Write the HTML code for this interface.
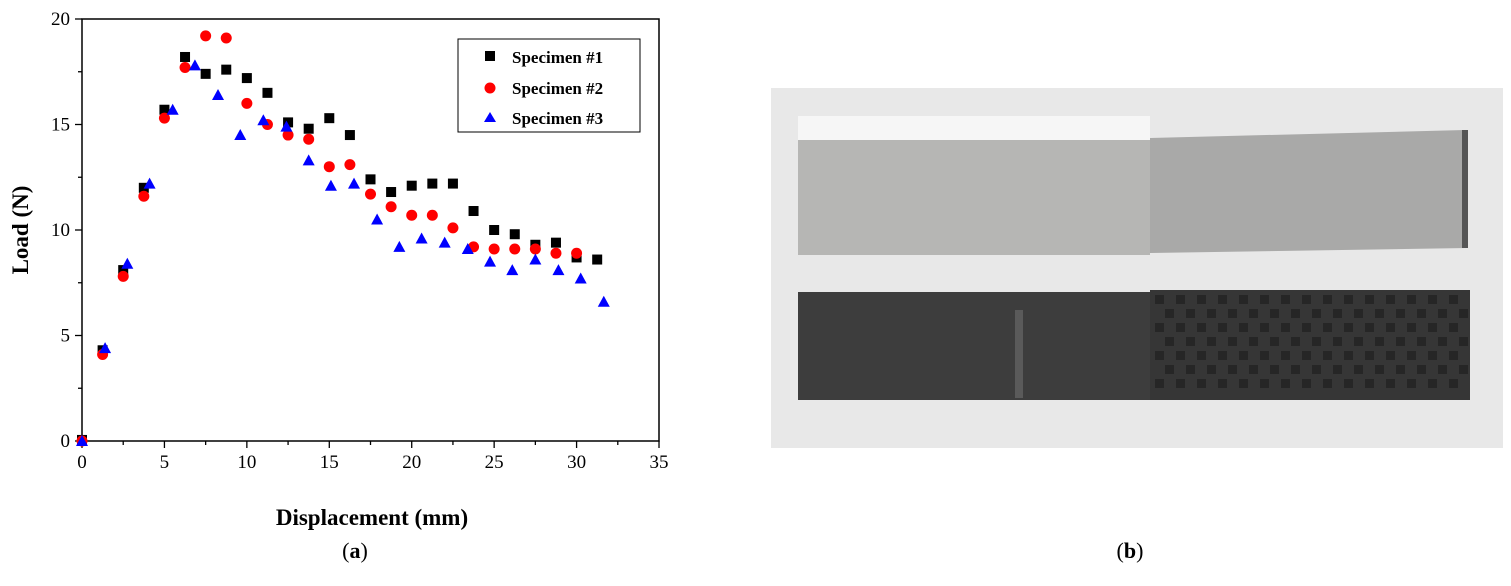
<!DOCTYPE html>
<html><head><style>
body{margin:0;background:#fff;width:1511px;height:581px;overflow:hidden;font-family:"Liberation Serif",serif}
</style></head><body>
<svg id="s" width="1511" height="581" xmlns="http://www.w3.org/2000/svg" font-family="Liberation Serif, serif">
<rect x="82" y="19" width="577" height="422" fill="none" stroke="#000" stroke-width="1.5"/>
<g id="ticks" stroke="#000" stroke-width="1.3"></g>
<g id="lbl" font-size="19" fill="#000"></g>
<text x="28" y="230" transform="rotate(-90 28 230)" font-size="23" font-weight="bold" text-anchor="middle">Load (N)</text>
<text x="372" y="525" font-size="23" font-weight="bold" text-anchor="middle">Displacement (mm)</text>
<text x="355" y="558" font-size="22" text-anchor="middle">(<tspan font-weight="bold">a</tspan>)</text>
<text x="1130" y="558" font-size="22" text-anchor="middle">(<tspan font-weight="bold">b</tspan>)</text>
<rect x="458" y="39" width="182" height="93" fill="#fff" stroke="#000" stroke-width="1"/>
<rect x="485" y="51" width="10" height="10" fill="#000"/>
<text x="512" y="63" font-size="17" font-weight="bold">Specimen #1</text>
<circle cx="490" cy="88" r="5.5" fill="#f00"/>
<text x="512" y="94" font-size="17" font-weight="bold">Specimen #2</text>
<polygon points="490,112 484,122 496,122" fill="#00f"/>
<text x="512" y="124" font-size="17" font-weight="bold">Specimen #3</text>
<g id="pts"></g>
<!-- photo -->
<rect x="771" y="88" width="732" height="360" fill="#e8e8e8"/>
<rect x="798" y="116" width="352" height="25" fill="#f6f6f6"/>
<rect x="798" y="140" width="352" height="115" fill="#b6b6b4"/>
<polygon points="1150,138 1465,130 1467,248 1150,253" fill="#a9a9a8"/>
<rect x="1462" y="130" width="6" height="118" fill="#555"/>
<rect x="798" y="292" width="352" height="108" fill="#3d3d3d"/>
<rect x="1150" y="290" width="320" height="110" fill="#363636"/>
<g id="cf"></g>
<rect x="1015" y="310" width="8" height="88" fill="#666" opacity="0.7"/>
</svg>
<script>
const X=v=>82+v*16.486, Y=v=>441-v*21.1;
let t='',l='';
for(let v=0;v<=35;v+=2.5){const x=X(v);t+=`<line x1="${x}" y1="441" x2="${x}" y2="${v%5?445:448}"/>`;if(v%5==0)l+=`<text x="${x}" y="468" text-anchor="middle">${v}</text>`;}
for(let v=0;v<=20;v+=2.5){const y=Y(v);t+=`<line x1="82" y1="${y}" x2="${v%5?78:75}" y2="${y}"/>`;if(v%5==0)l+=`<text x="70" y="${y+6}" text-anchor="end">${v}</text>`;}
document.getElementById('ticks').innerHTML=t;document.getElementById('lbl').innerHTML=l;
const s1=[[0,.05],[1.25,4.3],[2.5,8.1],[3.75,12],[5,15.7],[6.25,18.2],[7.5,17.4],[8.75,17.6],[10,17.2],[11.25,16.5],[12.5,15.1],[13.75,14.8],[15,15.3],[16.25,14.5],[17.5,12.4],[18.75,11.8],[20,12.1],[21.25,12.2],[22.5,12.2],[23.75,10.9],[25,10],[26.25,9.8],[27.5,9.3],[28.75,9.4],[30,8.7],[31.25,8.6]];
const s2=[[0,0],[1.25,4.1],[2.5,7.8],[3.75,11.6],[5,15.3],[6.25,17.7],[7.5,19.2],[8.75,19.1],[10,16],[11.25,15],[12.5,14.5],[13.75,14.3],[15,13],[16.25,13.1],[17.5,11.7],[18.75,11.1],[20,10.7],[21.25,10.7],[22.5,10.1],[23.75,9.2],[25,9.1],[26.25,9.1],[27.5,9.1],[28.75,8.9],[30,8.9]];
const s3=[[0,0],[1.4,4.4],[2.75,8.4],[4.1,12.2],[5.5,15.7],[6.85,17.8],[8.25,16.4],[9.6,14.5],[11,15.2],[12.4,14.9],[13.75,13.3],[15.1,12.1],[16.5,12.2],[17.9,10.5],[19.25,9.2],[20.6,9.6],[22,9.4],[23.4,9.1],[24.75,8.5],[26.1,8.1],[27.5,8.6],[28.9,8.1],[30.25,7.7],[31.65,6.6]];
let p='';
s1.forEach(([a,b])=>p+=`<rect x="${X(a)-5}" y="${Y(b)-5}" width="10" height="10" fill="#000"/>`);
s2.forEach(([a,b])=>p+=`<circle cx="${X(a)}" cy="${Y(b)}" r="5.5" fill="#f00"/>`);
s3.forEach(([a,b])=>{const x=X(a),y=Y(b);p+=`<polygon points="${x},${y-6} ${x-6},${y+5} ${x+6},${y+5}" fill="#00f"/>`});
document.getElementById('pts').innerHTML=p;
let c='',r=0;
for(let yy=295;yy<390;yy+=14,r++)for(let xx=1155;xx<1455;xx+=21){c+=`<rect x="${xx+(r%2?10:0)}" y="${yy}" width="9" height="9" fill="#262626"/>`;}
document.getElementById('cf').innerHTML=c;
</script>
</body></html>
